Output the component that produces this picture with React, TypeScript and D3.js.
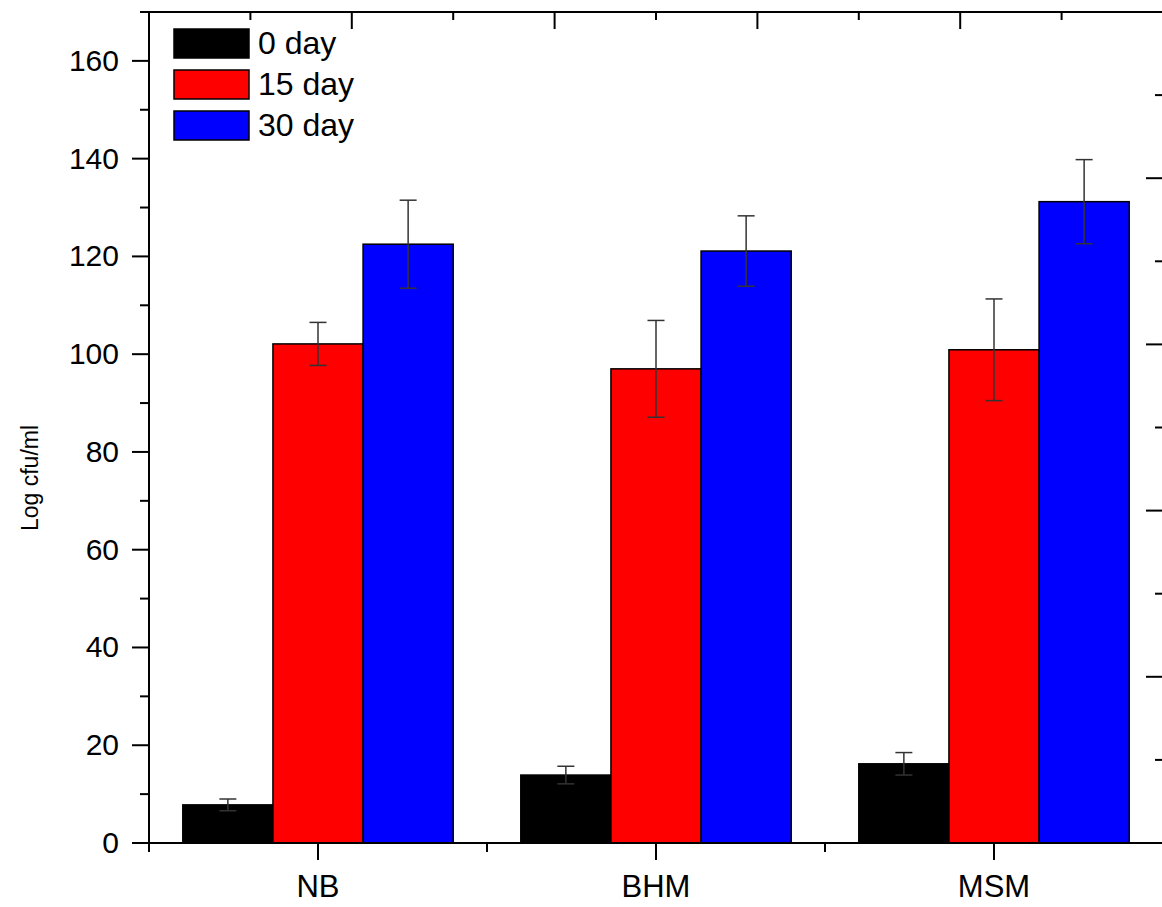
import React, { useEffect, useRef } from "react";
import * as d3 from "d3";

const categories = ["NB", "BHM", "MSM"];
const seriesNames = ["0 day", "15 day", "30 day"];
const seriesColors = ["#000000", "#ff0000", "#0000ff"];
const day0 = [7.8, 13.9, 16.2];
const day0Err = [1.2, 1.8, 2.3];
const day15 = [102.1, 97.0, 100.9];
const day15Err = [4.4, 9.9, 10.4];
const day30 = [122.5, 121.1, 131.2];
const day30Err = [9.0, 7.2, 8.6];
const yTicks = [0, 20, 40, 60, 80, 100, 120, 140, 160];
const yLabel = "Log cfu/ml";

const W = 1162;
const H = 907;
const FONT = "'Liberation Sans', Arial, Helvetica, sans-serif";

export default function App() {
  const ref = useRef<SVGSVGElement | null>(null);

  useEffect(() => {
    const svg = d3.select(ref.current);
    svg.selectAll("*").remove();

    const left = 149, right = 1163, top = 12, bottom = 843;
    const x = d3.scaleBand<string>().domain(categories).range([left, right]).paddingInner(0).paddingOuter(0);
    const bw = x.bandwidth();
    const xs = d3.scaleBand<string>().domain(seriesNames).range([0.1 * bw, 0.9 * bw]).padding(0);
    const y = d3.scaleLinear().domain([0, 170]).range([bottom, top]);
    // secondary layer axes (unlabelled)
    const x2 = d3.scaleLinear().domain([0, 10]).range([left, right]);
    const y2 = d3.scaleLinear().domain([0, 10]).range([bottom, top]);

    const values = [day0, day15, day30];
    const errs = [day0Err, day15Err, day30Err];

    const g = svg.append("g");

    // bars
    seriesNames.forEach((s, si) => {
      g.selectAll(null)
        .data(categories)
        .enter()
        .append("rect")
        .attr("x", (c) => (x(c) as number) + (xs(s) as number))
        .attr("width", xs.bandwidth())
        .attr("y", (c, i) => y(values[si][i]))
        .attr("height", (c, i) => bottom - y(values[si][i]))
        .attr("fill", seriesColors[si])
        .attr("stroke", "#000")
        .attr("stroke-width", 1.5);
    });

    // error bars
    const capW = 17;
    seriesNames.forEach((s, si) => {
      categories.forEach((c, i) => {
        const cx = (x(c) as number) + (xs(s) as number) + xs.bandwidth() / 2;
        const v = values[si][i];
        const e = errs[si][i];
        const eg = g.append("g").attr("stroke", "#333").attr("stroke-width", 1.5);
        eg.append("line").attr("x1", cx).attr("x2", cx).attr("y1", y(v + e)).attr("y2", y(v - e));
        eg.append("line").attr("x1", cx - capW / 2).attr("x2", cx + capW / 2).attr("y1", y(v + e)).attr("y2", y(v + e));
        eg.append("line").attr("x1", cx - capW / 2).attr("x2", cx + capW / 2).attr("y1", y(v - e)).attr("y2", y(v - e));
      });
    });

    const ax = svg.append("g").attr("stroke", "#000").attr("stroke-width", 2);
    // frame lines
    ax.append("line").attr("x1", left).attr("x2", left).attr("y1", top).attr("y2", bottom);
    ax.append("line").attr("x1", left).attr("x2", right).attr("y1", bottom).attr("y2", bottom);
    ax.append("line").attr("x1", left).attr("x2", right).attr("y1", top).attr("y2", top);
    ax.append("line").attr("x1", right).attr("x2", right).attr("y1", top).attr("y2", bottom);

    // left axis ticks (outward)
    d3.range(0, 171, 10).forEach((t) => {
      const major = t % 20 === 0;
      const len = major ? 17 : 9;
      ax.append("line").attr("x1", left - len).attr("x2", left).attr("y1", y(t)).attr("y2", y(t));
    });
    svg
      .append("g")
      .selectAll("text")
      .data(yTicks)
      .enter()
      .append("text")
      .attr("x", 119)
      .attr("y", (t) => y(t))
      .attr("dy", "0.33em")
      .attr("text-anchor", "end")
      .attr("font-family", FONT)
      .attr("font-size", 30)
      .text((t) => String(t));

    // bottom axis ticks
    categories.forEach((c) => {
      const cx = (x(c) as number) + bw / 2;
      ax.append("line").attr("x1", cx).attr("x2", cx).attr("y1", bottom).attr("y2", bottom + 17);
    });
    [...categories.map((c) => x(c) as number), right].forEach((bx) => {
      ax.append("line").attr("x1", bx).attr("x2", bx).attr("y1", bottom).attr("y2", bottom + 9);
    });
    svg
      .append("g")
      .selectAll("text")
      .data(categories)
      .enter()
      .append("text")
      .attr("x", (c) => (x(c) as number) + bw / 2)
      .attr("y", 897)
      .attr("text-anchor", "middle")
      .attr("font-family", FONT)
      .attr("font-size", 31)
      .text((c) => c);

    // top axis ticks (inward)
    d3.range(1, 11).forEach((t) => {
      const len = t % 2 === 0 ? 17 : 8;
      ax.append("line").attr("x1", x2(t)).attr("x2", x2(t)).attr("y1", top).attr("y2", top + len);
    });
    // right axis ticks (inward)
    d3.range(1, 11).forEach((t) => {
      const len = t % 2 === 0 ? 17 : 8;
      ax.append("line").attr("x1", right - len).attr("x2", right).attr("y1", y2(t)).attr("y2", y2(t));
    });

    // y label
    svg
      .append("text")
      .attr("transform", `translate(38, ${478}) rotate(-90)`)
      .attr("text-anchor", "middle")
      .attr("font-family", FONT)
      .attr("font-size", 23)
      .text(yLabel);

    // legend
    const lg = svg.append("g");
    seriesNames.forEach((s, i) => {
      const ly = 29 + i * 41;
      lg.append("rect")
        .attr("x", 174)
        .attr("y", ly)
        .attr("width", 75)
        .attr("height", 29)
        .attr("fill", seriesColors[i])
        .attr("stroke", "#000")
        .attr("stroke-width", 1.5);
      lg.append("text")
        .attr("x", 258)
        .attr("y", ly + 25)
        .attr("font-family", FONT)
        .attr("font-size", 32)
        .text(s);
    });
  }, []);

  return (
    <svg
      ref={ref}
      width={W}
      height={H}
      style={{ position: "absolute", left: 0, top: 0, background: "#fff", overflow: "hidden" }}
    />
  );
}
